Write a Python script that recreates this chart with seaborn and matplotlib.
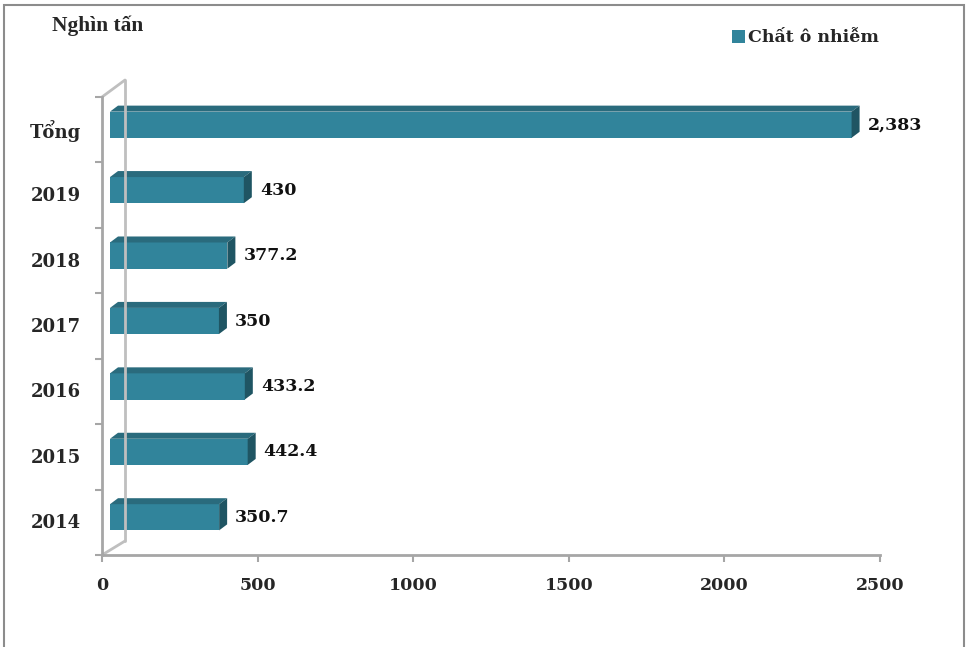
import numpy as np
import pandas as pd
import matplotlib
matplotlib.use("Agg")
import matplotlib.pyplot as plt
import matplotlib.transforms as mtransforms
from matplotlib.patches import Polygon, Rectangle
from matplotlib.lines import Line2D
import seaborn as sns

categories = ["Tổng", "2019", "2018", "2017", "2016", "2015", "2014"]
values = [2383, 430, 377.2, 350, 433.2, 442.4, 350.7]
series_name = "Chất ô nhiễm"
unit_label = "Nghìn tấn"
x_ticks = [0, 500, 1000, 1500, 2000, 2500]

sns.set_style("white")
plt.rcParams["font.family"] = ["DejaVu Serif", "DejaVu Sans"]
plt.rcParams["font.weight"] = "bold"

FRONT = "#31849B"
TOP = "#2A6B7D"
SIDE = "#1F5563"
GRID = "#A6A6A6"
WALL = "#BFBFBF"

W, H, DPI = 969, 647, 100
fig = plt.figure(figsize=(W / DPI, H / DPI), dpi=DPI)
fig.patch.set_facecolor("white")

L, R, T, B = 102, 880, 97, 555
ax = fig.add_axes([L / W, (H - B) / H, (R - L) / W, (B - T) / H])

df = pd.DataFrame({"cat": categories, "val": values})
sns.barplot(data=df, y="cat", x="val", orient="h", order=categories,
            color=FRONT, width=0.4, saturation=1, ax=ax, label=series_name,
            edgecolor="none")

ax.set_xlim(0, 2500)
ax.set_ylim(len(categories) - 0.5, -0.5)
ax.set_xticks(x_ticks)
ax.set_xticklabels([str(t) for t in x_ticks])
ax.set_xlabel("")
ax.set_ylabel("")

for s in ["top", "right"]:
    ax.spines[s].set_visible(False)
for s in ["left", "bottom"]:
    ax.spines[s].set_color(GRID)
    ax.spines[s].set_linewidth(2)

ax.tick_params(axis="x", length=5, width=1.5, color=GRID, pad=11,
               labelsize=12.5, direction="out", bottom=True)
ax.tick_params(axis="y", which="major", length=0, pad=15, labelsize=13)
ax.set_yticks(np.arange(-0.5, len(categories) + 0.5, 1), minor=True)
ax.tick_params(axis="y", which="minor", length=5, width=1.5, color=GRID,
               direction="out", left=True)
for lab in ax.get_xticklabels() + ax.get_yticklabels():
    lab.set_fontweight("bold")
for lab in ax.get_yticklabels():
    lab.set_va("center")
    lab.set_transform(lab.get_transform() + mtransforms.ScaledTranslation(0, -1 / DPI, fig.dpi_scale_trans))

# pseudo-3D bars: shift front faces, add top and side faces
shift_x, shift_y = 8, 5
dx, dy = 8, 6
off = mtransforms.ScaledTranslation(shift_x / DPI, shift_y / DPI, fig.dpi_scale_trans)
ident = mtransforms.IdentityTransform()
for p in ax.patches:
    x0, y0 = p.get_x(), p.get_y()
    w, h = p.get_width(), p.get_height()
    (ax0, ay0), (ax1, ay1) = ax.transData.transform([(x0, y0), (x0 + w, y0 + h)])
    ax0 += shift_x; ax1 += shift_x; ay0 += shift_y; ay1 += shift_y
    ytop = max(ay0, ay1); ybot = min(ay0, ay1)
    p.set_transform(ax.transData + off)
    top = Polygon([(ax0, ytop), (ax1, ytop), (ax1 + dx, ytop + dy), (ax0 + dx, ytop + dy)],
                  closed=True, facecolor=TOP, edgecolor="none", transform=ident, clip_on=False)
    side = Polygon([(ax1, ybot), (ax1 + dx, ybot + dy), (ax1 + dx, ytop + dy), (ax1, ytop)],
                   closed=True, facecolor=SIDE, edgecolor="none", transform=ident, clip_on=False)
    ax.add_artist(top)
    ax.add_artist(side)

# back wall lines
def disp(px, py):
    return (px, H - py)
wall_lines = [
    [disp(102, 97), disp(125, 80)],
    [disp(125, 80), disp(125, 541)],
    [disp(125, 541), disp(102, 555)],
]
for seg in wall_lines:
    (xa, ya), (xb, yb) = seg
    ax.add_artist(Line2D([xa, xb], [ya, yb], color=WALL, lw=2, transform=ident, clip_on=False))

# value labels
for i, v in enumerate(values):
    txt = f"{v:,.0f}" if float(v).is_integer() else f"{v:,.1f}"
    ax.annotate(txt, xy=(v, i), xytext=(24, 5), textcoords="offset pixels",
                ha="left", va="center", fontsize=12.5, fontweight="bold", color="#111111")

# unit label
fig.text(52 / W, 1 - 26 / H, unit_label, fontsize=15.4, fontweight="bold",
         family=["Liberation Serif", "DejaVu Serif"], ha="left", va="center")

# legend
leg = ax.legend(loc="center left", bbox_to_anchor=(716 / W, 1 - 38 / H),
                bbox_transform=fig.transFigure, frameon=False, handlelength=0.75,
                handleheight=0.8, handletextpad=0.2, prop={"weight": "bold", "size": 12.5})

# outer border
fig.add_artist(Rectangle((4 / W, -0.01), (964 - 4) / W, (H - 5) / H + 0.01,
                         transform=fig.transFigure, fill=False, edgecolor="#8C8C8C", lw=1.5))

fig.savefig("out.png", dpi=DPI, facecolor="white")
